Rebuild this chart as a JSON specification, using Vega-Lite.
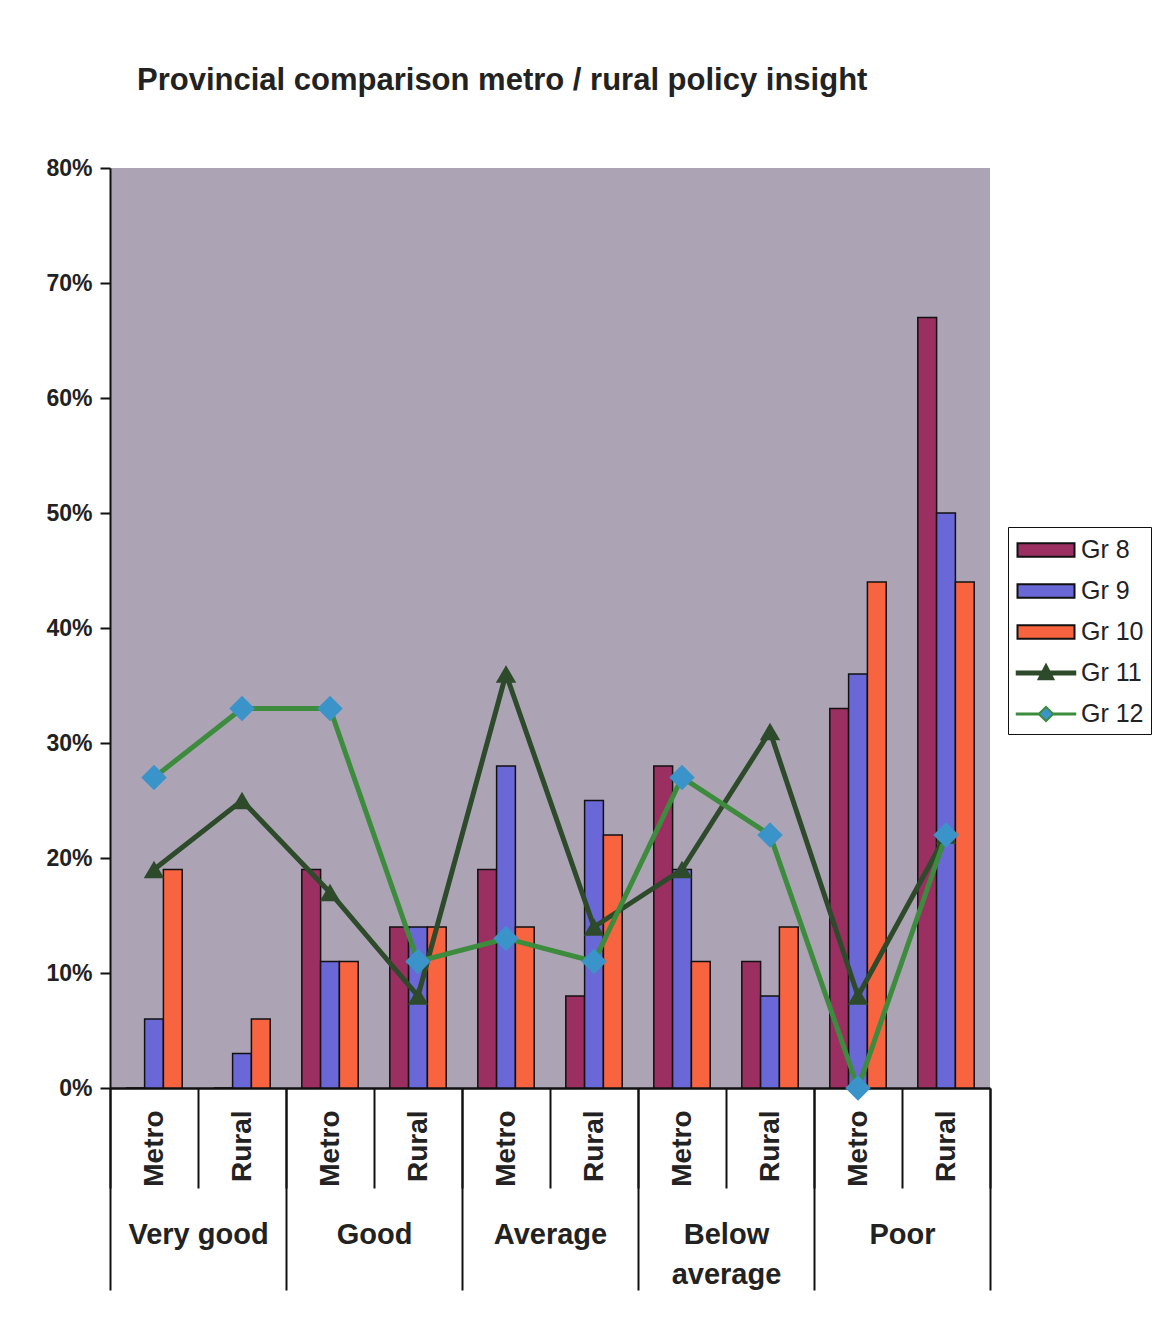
{
  "$schema": "https://vega.github.io/schema/vega-lite/v6.json",
  "width": 880,
  "height": 920,
  "autosize": "none",
  "padding": {"left": 110, "top": 168, "right": 172, "bottom": 235},
  "background": "white",
  "config": {
    "view": {"fill": "#ACA4B5", "stroke": null},
    "font": "Liberation Sans",
    "legend": {
      "orient": "none", "legendX": 898, "legendY": 359,
      "title": null, "strokeColor": "#111111", "fillColor": "white",
      "padding": 7, "labelFontSize": 25, "labelColor": "#222222",
      "labelFont": "Liberation Sans",
      "symbolSize": 900, "symbolOffset": 15, "rowPadding": 12, "labelOffset": 19
    }
  },
  "title": {
    "text": "Provincial comparison metro / rural policy insight",
    "anchor": "start",
    "frame": "group",
    "dx": 27,
    "offset": 60,
    "fontSize": 31,
    "fontWeight": "bold",
    "font": "Liberation Sans",
    "color": "#222222"
  },
  "data": {
    "values": [
      {"key": "Very good|Metro", "rating": "Very good", "grade": "Gr 8", "value": 0},
      {"key": "Very good|Metro", "rating": "Very good", "grade": "Gr 9", "value": 0.06},
      {"key": "Very good|Metro", "rating": "Very good", "grade": "Gr 10", "value": 0.19},
      {"key": "Very good|Metro", "rating": "Very good", "grade": "Gr 11", "value": 0.19},
      {"key": "Very good|Metro", "rating": "Very good", "grade": "Gr 12", "value": 0.27},
      {"key": "Very good|Rural", "rating": "Very good", "grade": "Gr 8", "value": 0},
      {"key": "Very good|Rural", "rating": "Very good", "grade": "Gr 9", "value": 0.03},
      {"key": "Very good|Rural", "rating": "Very good", "grade": "Gr 10", "value": 0.06},
      {"key": "Very good|Rural", "rating": "Very good", "grade": "Gr 11", "value": 0.25},
      {"key": "Very good|Rural", "rating": "Very good", "grade": "Gr 12", "value": 0.33},
      {"key": "Good|Metro", "rating": "Good", "grade": "Gr 8", "value": 0.19},
      {"key": "Good|Metro", "rating": "Good", "grade": "Gr 9", "value": 0.11},
      {"key": "Good|Metro", "rating": "Good", "grade": "Gr 10", "value": 0.11},
      {"key": "Good|Metro", "rating": "Good", "grade": "Gr 11", "value": 0.17},
      {"key": "Good|Metro", "rating": "Good", "grade": "Gr 12", "value": 0.33},
      {"key": "Good|Rural", "rating": "Good", "grade": "Gr 8", "value": 0.14},
      {"key": "Good|Rural", "rating": "Good", "grade": "Gr 9", "value": 0.14},
      {"key": "Good|Rural", "rating": "Good", "grade": "Gr 10", "value": 0.14},
      {"key": "Good|Rural", "rating": "Good", "grade": "Gr 11", "value": 0.08},
      {"key": "Good|Rural", "rating": "Good", "grade": "Gr 12", "value": 0.11},
      {"key": "Average|Metro", "rating": "Average", "grade": "Gr 8", "value": 0.19},
      {"key": "Average|Metro", "rating": "Average", "grade": "Gr 9", "value": 0.28},
      {"key": "Average|Metro", "rating": "Average", "grade": "Gr 10", "value": 0.14},
      {"key": "Average|Metro", "rating": "Average", "grade": "Gr 11", "value": 0.36},
      {"key": "Average|Metro", "rating": "Average", "grade": "Gr 12", "value": 0.13},
      {"key": "Average|Rural", "rating": "Average", "grade": "Gr 8", "value": 0.08},
      {"key": "Average|Rural", "rating": "Average", "grade": "Gr 9", "value": 0.25},
      {"key": "Average|Rural", "rating": "Average", "grade": "Gr 10", "value": 0.22},
      {"key": "Average|Rural", "rating": "Average", "grade": "Gr 11", "value": 0.14},
      {"key": "Average|Rural", "rating": "Average", "grade": "Gr 12", "value": 0.11},
      {"key": "Below average|Metro", "rating": "Below average", "grade": "Gr 8", "value": 0.28},
      {"key": "Below average|Metro", "rating": "Below average", "grade": "Gr 9", "value": 0.19},
      {"key": "Below average|Metro", "rating": "Below average", "grade": "Gr 10", "value": 0.11},
      {"key": "Below average|Metro", "rating": "Below average", "grade": "Gr 11", "value": 0.19},
      {"key": "Below average|Metro", "rating": "Below average", "grade": "Gr 12", "value": 0.27},
      {"key": "Below average|Rural", "rating": "Below average", "grade": "Gr 8", "value": 0.11},
      {"key": "Below average|Rural", "rating": "Below average", "grade": "Gr 9", "value": 0.08},
      {"key": "Below average|Rural", "rating": "Below average", "grade": "Gr 10", "value": 0.14},
      {"key": "Below average|Rural", "rating": "Below average", "grade": "Gr 11", "value": 0.31},
      {"key": "Below average|Rural", "rating": "Below average", "grade": "Gr 12", "value": 0.22},
      {"key": "Poor|Metro", "rating": "Poor", "grade": "Gr 8", "value": 0.33},
      {"key": "Poor|Metro", "rating": "Poor", "grade": "Gr 9", "value": 0.36},
      {"key": "Poor|Metro", "rating": "Poor", "grade": "Gr 10", "value": 0.44},
      {"key": "Poor|Metro", "rating": "Poor", "grade": "Gr 11", "value": 0.08},
      {"key": "Poor|Metro", "rating": "Poor", "grade": "Gr 12", "value": 0},
      {"key": "Poor|Rural", "rating": "Poor", "grade": "Gr 8", "value": 0.67},
      {"key": "Poor|Rural", "rating": "Poor", "grade": "Gr 9", "value": 0.50},
      {"key": "Poor|Rural", "rating": "Poor", "grade": "Gr 10", "value": 0.44},
      {"key": "Poor|Rural", "rating": "Poor", "grade": "Gr 11", "value": 0.22},
      {"key": "Poor|Rural", "rating": "Poor", "grade": "Gr 12", "value": 0.22}
    ]
  },
  "layer": [
    {
      "layer": [
        {
          "transform": [{"filter": {"field": "grade", "oneOf": ["Gr 8", "Gr 9", "Gr 10"]}}],
          "mark": {"type": "bar", "stroke": "#111111", "strokeWidth": 1.5},
          "encoding": {
            "x": {
              "field": "key", "type": "nominal", "sort": null,
              "scale": {"paddingInner": 0, "paddingOuter": 0},
              "axis": {
                "orient": "bottom", "title": null,
                "tickBand": "extent", "tickSize": 100, "tickWidth": 2, "tickColor": "#111111",
                "domainColor": "#111111", "domainWidth": 2.5,
                "labelAngle": -90, "labelAlign": "right", "labelBaseline": "middle",
                "labelFontSize": 28, "labelFontWeight": "bold", "labelColor": "#222222",
                "labelPadding": -78,
                "labelExpr": "split(datum.label, '|')[1]"
              }
            },
            "xOffset": {"field": "grade", "type": "nominal", "sort": null, "scale": {"domain": ["Gr 8", "Gr 9", "Gr 10"], "paddingInner": 0, "paddingOuter": 0.84}},
            "y": {
              "field": "value", "type": "quantitative",
              "scale": {"domain": [0, 0.8], "nice": false},
              "axis": {
                "title": null, "format": ".0%",
                "values": [0, 0.1, 0.2, 0.3, 0.4, 0.5, 0.6, 0.7, 0.8],
                "grid": false, "domainColor": "#111111", "domainWidth": 2,
                "tickColor": "#111111", "tickWidth": 2, "tickSize": 10,
                "labelFontSize": 23, "labelFontWeight": "bold", "labelPadding": 8, "labelColor": "#222222"
              }
            },
            "fill": {
              "field": "grade", "type": "nominal",
              "scale": {
                "domain": ["Gr 8", "Gr 9", "Gr 10", "Gr 11", "Gr 12"],
                "range": ["#9C2F62", "#6A67D6", "#F8643F", "#2D4A2A", "#3B94C9"]
              },
              "legend": {
                "encode": {
                  "symbols": {
                    "update": {
                      "shape": {"signal": "datum.value === 'Gr 11' ? 'M-1.95,-0.1H1.95V0.1H-1.95Z M-0.5,0.42L0,-0.55L0.5,0.42Z' : datum.value === 'Gr 12' ? 'M-1.95,-0.04H-0.45L0,-0.48L0.45,-0.04H1.95V0.04H0.45L0,0.48L-0.45,0.04H-1.95Z' : 'M-1.9,-0.45H1.9V0.45H-1.9Z'"},
                      "strokeWidth": {"value": 2},
                      "opacity": {"value": 1},
                      "fillOpacity": {"value": 1}
                    }
                  }
                }
              }
            }
          }
        },
        {
          "transform": [{"filter": {"field": "grade", "oneOf": ["Gr 11", "Gr 12"]}}],
          "mark": {"type": "line", "strokeWidth": 5},
          "encoding": {
            "x": {"field": "key", "type": "nominal", "sort": null},
            "y": {"field": "value", "type": "quantitative"},
            "stroke": {
              "field": "grade", "type": "nominal",
              "scale": {
                "domain": ["Gr 8", "Gr 9", "Gr 10", "Gr 11", "Gr 12"],
                "range": ["#111111", "#111111", "#111111", "#2D4A2A", "#3D8B3D"]
              },
              "legend": {
                "encode": {
                  "symbols": {
                    "update": {
                      "shape": {"signal": "datum.value === 'Gr 11' ? 'M-1.95,-0.1H1.95V0.1H-1.95Z M-0.5,0.42L0,-0.55L0.5,0.42Z' : datum.value === 'Gr 12' ? 'M-1.95,-0.04H-0.45L0,-0.48L0.45,-0.04H1.95V0.04H0.45L0,0.48L-0.45,0.04H-1.95Z' : 'M-1.9,-0.45H1.9V0.45H-1.9Z'"},
                      "strokeWidth": {"value": 2},
                      "opacity": {"value": 1},
                      "fillOpacity": {"value": 1}
                    }
                  }
                }
              }
            },
            "order": {"value": null}
          }
        },
        {
          "transform": [{"filter": {"field": "grade", "equal": "Gr 11"}}],
          "mark": {"type": "point", "shape": "triangle-up", "filled": true, "size": 420, "color": "#2D4A2A", "opacity": 1},
          "encoding": {
            "x": {"field": "key", "type": "nominal", "sort": null},
            "y": {"field": "value", "type": "quantitative"}
          }
        },
        {
          "transform": [{"filter": {"field": "grade", "equal": "Gr 12"}}],
          "mark": {"type": "point", "shape": "diamond", "filled": true, "size": 650, "color": "#3B94C9", "opacity": 1},
          "encoding": {
            "x": {"field": "key", "type": "nominal", "sort": null},
            "y": {"field": "value", "type": "quantitative"}
          }
        }
      ]
    },
    {
      "mark": {"type": "text", "text": ""},
      "encoding": {
        "x": {
          "field": "rating", "type": "nominal",
          "scale": {"domain": ["Very good", "Good", "Average", "Below average", "Poor"], "paddingInner": 0, "paddingOuter": 0},
          "axis": {
            "orient": "bottom", "title": null,
            "tickBand": "extent", "tickSize": 202, "tickWidth": 2, "tickColor": "#111111",
            "domain": false, "labelAngle": 0, "labelBaseline": "top",
            "labelFontSize": 29, "labelFontWeight": "bold", "labelColor": "#222222",
            "labelPadding": -70, "labelLineHeight": 40,
            "labelExpr": "datum.label === 'Below average' ? ['Below', 'average'] : datum.label"
          }
        }
      }
    }
  ],
  "resolve": {"scale": {"x": "independent"}, "axis": {"x": "independent"}}
}
